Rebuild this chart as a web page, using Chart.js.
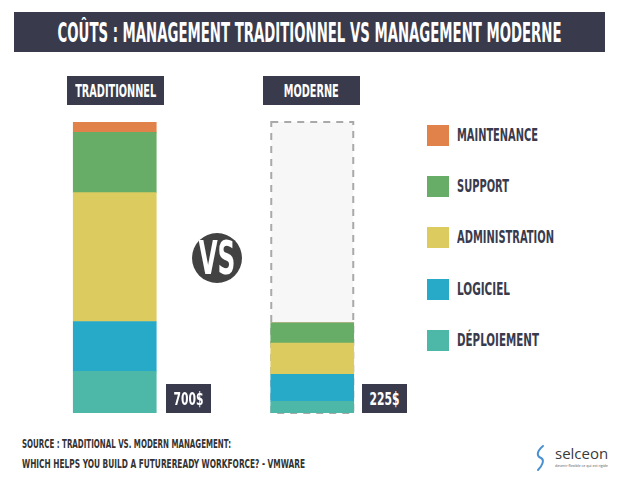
<!DOCTYPE html>
<html>
<head>
<meta charset="utf-8">
<script src="https://cdn.jsdelivr.net/npm/chart.js@4"></script>
<style>
  html, body { margin: 0; padding: 0; background: #fff; }
  body { width: 620px; height: 487px; position: relative; overflow: hidden;
         font-family: "Liberation Sans Narrow", "DejaVu Sans Condensed", "Roboto", sans-serif; font-weight: bold; }
  .box { position: absolute; background: #393b4d; color: #fff; display: flex; align-items: center; justify-content: center; }
  .fit { display: inline-block; white-space: nowrap; transform-origin: center center; }
  #title { left: 14px; top: 12px; width: 591px; height: 40px; font-size: 27px; }
  #chart { position: absolute; left: 6px; top: 112px; }
  #vs { position: absolute; left: 192px; top: 233px; width: 50px; height: 50px; border-radius: 50%; background: #424242;
        color: #fff; display: flex; align-items: center; justify-content: center; font-size: 46px; }
  #legend { position: absolute; left: 427px; top: 125px; }
  .item { position: absolute; left: 0; height: 22px; width: 180px; }
  .item .sw { position: absolute; left: 0; top: 0; width: 22px; height: 21px; }
  .item .lb { position: absolute; left: 30px; top: 0px; font-size: 17.5px; color: #393b4d; line-height: 21px; }
  .src { position: absolute; left: 22px; font-size: 12.5px; color: #333; white-space: nowrap; }
  #logo { position: absolute; left: 534px; top: 443px; width: 78px; height: 30px; }
  #logo text { font-weight: normal; }
</style>
</head>
<body>
<div id="title" class="box"><span class="fit" data-w="504">COÛTS : MANAGEMENT TRADITIONNEL VS MANAGEMENT MODERNE</span></div>
<canvas id="chart" width="415" height="311"></canvas>
<div id="vs"><span class="fit" data-w="37">VS</span></div>
<div id="legend"></div>
<div class="src" style="top:436px"><span class="fit" data-w="209" style="transform-origin:left center">SOURCE : TRADITIONAL VS. MODERN MANAGEMENT:</span></div>
<div class="src" style="top:456px"><span class="fit" data-w="283" style="transform-origin:left center">WHICH HELPS YOU BUILD A FUTUREREADY WORKFORCE? - VMWARE</span></div>
<svg id="logo" viewBox="0 0 78 30">
  <path d="M9 3 C3 8, 2 13, 7 15 C11 17, 8 23, 4 27" fill="none" stroke="#4a90d0" stroke-width="2" stroke-linecap="round"/>
  <text x="21" y="16" font-family="Open Sans, sans-serif" font-size="15" fill="#3a3a3a">selceon</text>
  <text x="21" y="24" font-family="Open Sans, sans-serif" font-size="3.6" fill="#555">devenir flexible ce qui est rigide</text>
</svg>
<script>
const categories = ["TRADITIONNEL", "MODERNE"];
const seriesNames = ["Déploiement", "Logiciel", "Administration", "Support", "Maintenance"];
const deploiement = [100, 28];
const logiciel = [120, 65];
const administration = [310, 75];
const support = [145, 49];
const maintenance = [25, 0];
const totals = ["700$", "225$"];
const yMax = 700;
const colors = ["#4db8a8", "#27a9c8", "#dccb5e", "#67ad67", "#e0824a"];

const seriesValues = [deploiement, logiciel, administration, support, maintenance];

// dashed ghost box behind the modern bar (same height as the traditional total)
const decor = {
  id: "decor",
  beforeDatasetsDraw(chart) {
    const { ctx, scales: { x, y } } = chart;
    const half = 41;
    const cx = x.getPixelForValue(1);
    const top = y.getPixelForValue(yMax), bottom = y.getPixelForValue(0);
    ctx.save();
    ctx.fillStyle = "#f7f7f7";
    ctx.fillRect(cx - half, top, half * 2, bottom - top);
    ctx.setLineDash([7, 6]);
    ctx.lineWidth = 2;
    ctx.strokeStyle = "#a9a9a9";
    ctx.strokeRect(cx - half, top, half * 2, bottom - top);
    ctx.restore();
  }
};

new Chart(document.getElementById("chart"), {
  type: "bar",
  data: {
    labels: categories,
    datasets: seriesNames.map((n, i) => ({
      label: n, data: seriesValues[i], backgroundColor: colors[i], borderWidth: 0, barThickness: 83
    }))
  },
  options: {
    responsive: false,
    animation: false,
    layout: { padding: { left: 10, right: 10, top: 10, bottom: 10 } },
    plugins: { legend: { display: false }, tooltip: { enabled: false } },
    scales: {
      x: { stacked: true, display: false },
      y: { stacked: true, display: false, min: 0, max: yMax }
    }
  },
  plugins: [decor]
});

// category tags above bars and total tags beside them
const tagPos = [{ l: 67, w: 97 }, { l: 263, w: 97 }];
const totPos = [166, 362];
categories.forEach((c, i) => {
  const d = document.createElement("div");
  d.className = "box";
  d.style.cssText = `left:${tagPos[i].l}px;top:76px;width:${tagPos[i].w}px;height:29px;font-size:17px;`;
  d.innerHTML = `<span class="fit" data-w="${i ? 55 : 81}">${c}</span>`;
  document.body.appendChild(d);
  const t = document.createElement("div");
  t.className = "box";
  t.style.cssText = `left:${totPos[i]}px;top:384px;width:45px;height:29px;font-size:18px;`;
  t.innerHTML = `<span class="fit" data-w="30">${totals[i]}</span>`;
  document.body.appendChild(t);
});

// legend, top item first
const legend = document.getElementById("legend");
seriesNames.slice().reverse().forEach((n, k) => {
  const i = seriesNames.length - 1 - k;
  const it = document.createElement("div");
  it.className = "item";
  it.style.top = (k * 51.2) + "px";
  it.innerHTML = `<div class="sw" style="background:${colors[i]}"></div><div class="lb"><span class="fit" data-w="${[81, 52, 97, 53, 82][k]}" style="transform-origin:left center">${n.toUpperCase()}</span></div>`;
  legend.appendChild(it);
});

// squeeze the text to the condensed widths of the original lettering
document.querySelectorAll(".fit").forEach(s => {
  const w = s.getBoundingClientRect().width;
  const target = +s.dataset.w;
  s.style.transform = `scaleX(${target / w})`;
});
</script>
</body>
</html>
